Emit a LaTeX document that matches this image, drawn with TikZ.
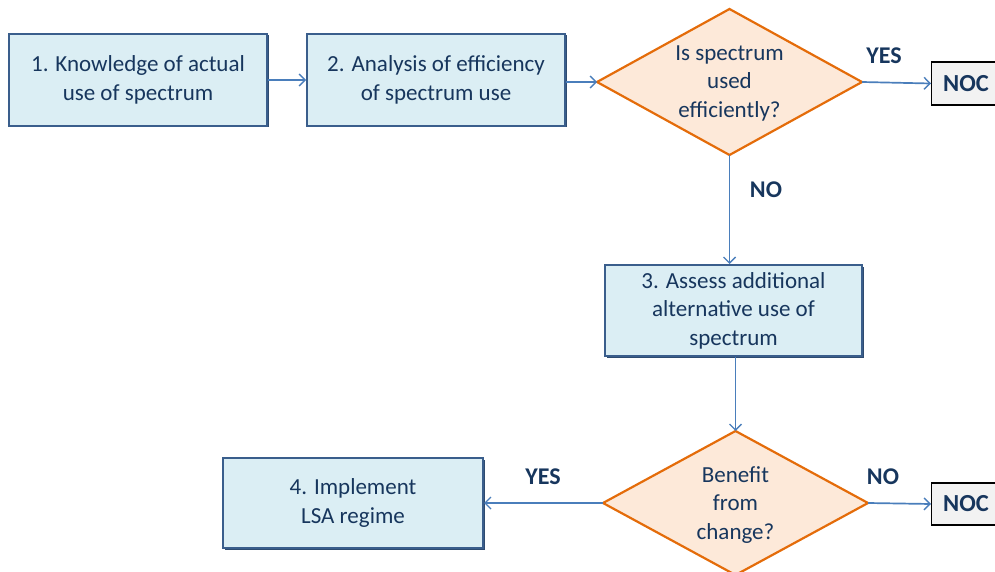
\documentclass[tikz,border=0pt]{standalone}
\usepackage{fontspec}
\setmainfont{Carlito}
\usetikzlibrary{arrows.meta,shadows}
\definecolor{boxfill}{HTML}{DBEEF4}
\definecolor{boxline}{HTML}{3A5E8C}
\definecolor{dfill}{HTML}{FDE9D9}
\definecolor{dline}{HTML}{E46C0A}
\definecolor{arr}{HTML}{4A7EBB}
\definecolor{txt}{HTML}{17365D}
\definecolor{nocfill}{HTML}{F2F2F2}
\tikzset{
  stepbox/.style={draw=boxline, fill=boxfill, line width=2pt, inner sep=0pt,
     text=txt, align=center, font=\fontsize{23}{28.5}\selectfont,
     drop shadow={shadow xshift=1.5pt, shadow yshift=-1.5pt, fill=boxline!80!black, opacity=1}},
  nocbox/.style={draw=black, fill=nocfill, line width=1.2pt, inner xsep=11.5pt, inner ysep=0pt,
     text=txt, font=\fontsize{24.5}{26}\selectfont\bfseries, anchor=west,
     drop shadow={shadow xshift=1.2pt, shadow yshift=-1.2pt, fill=black, opacity=1}},
  dtext/.style={text=txt, align=center, font=\fontsize{23}{28.5}\selectfont},
  lbl/.style={text=txt, font=\fontsize{24}{26}\selectfont\bfseries},
  conn/.style={draw=arr, line width=1.7pt, -{Straight Barb[length=6pt,width=12pt,line width=1.4pt]}},
  dshape/.style={draw=dline, fill=dfill, line width=2.2pt, line join=miter},
}
\begin{document}
\begin{tikzpicture}[x=1pt,y=-1pt]
\useasboundingbox (0,0) rectangle (995,572);
\clip (0,0) rectangle (995,572);
% boxes
\node[stepbox, minimum width=258pt, minimum height=92pt] (b1) at (138,80) {1. Knowledge of actual\\use of spectrum};
\node[stepbox, minimum width=258pt, minimum height=92pt] (b2) at (436,80) {2. Analysis of efficiency\\of spectrum use};
\node[stepbox, minimum width=257pt, minimum height=91pt] (b3) at (733.5,310.5) {3. Assess additional\\alternative use of\\spectrum};
\node[stepbox, minimum width=260pt, minimum height=90pt] (b4) at (353,503) {4. Implement\\LSA regime};
% diamond 1
\coordinate (d1t) at (729.5,9);
\coordinate (d1b) at (729.5,155);
\coordinate (d1l) at (597,82);
\coordinate (d1r) at (862,82);
\draw[dshape] (d1t) -- (d1r) -- (d1b) -- (d1l) -- cycle;
\node[dtext] (d1) at (729.5,83) {Is spectrum\\used\\efficiently?};
% diamond 2
\coordinate (d2t) at (735.5,431);
\coordinate (d2b) at (735.5,575);
\coordinate (d2l) at (603,503);
\coordinate (d2r) at (868,503);
\draw[dshape] (d2t) -- (d2r) -- (d2b) -- (d2l) -- cycle;
\node[dtext] (d2) at (735.5,505) {Benefit\\from\\change?};
% NOC boxes
\node[nocbox, minimum height=43pt] (n1) at (931,83.5) {NOC};
\node[nocbox, minimum height=42pt] (n2) at (931,504) {NOC};
% labels
\node[lbl] (y1) at (884,56) {YES};
\node[lbl] (no1) at (766,190) {NO};
\node[lbl] (no2) at (883,477) {NO};
\node[lbl] (y2) at (543,477) {YES};
% connectors
\draw[conn] (b1.east) -- (b2.west);
\draw[conn] (b2.east |- d1l) -- (d1l);
\draw[conn] (d1r) -- (n1.west);
\draw[conn] (d1b) -- (d1b |- b3.north);
\draw[conn] (b3.south -| d2t) -- (d2t);
\draw[conn] (d2r) -- (n2.west);
\draw[conn] (d2l) -- (b4.east);
\end{tikzpicture}
\end{document}
